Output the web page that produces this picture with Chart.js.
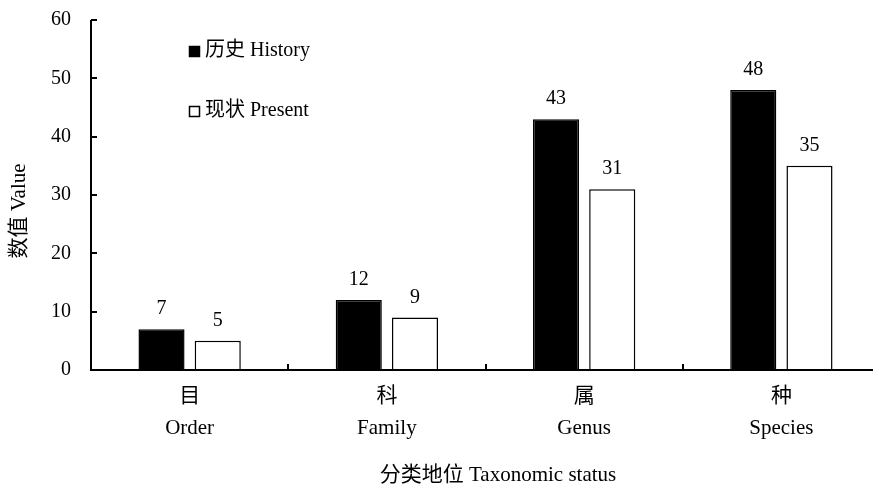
<!DOCTYPE html>
<html><head><meta charset="utf-8">
<script src="https://cdn.jsdelivr.net/npm/chart.js@4.4.0/dist/chart.umd.min.js"></script>
<style>html,body{margin:0;padding:0;overflow:hidden;background:#fff;width:873px;height:488px}#w{width:880px;height:488px}</style>
</head><body><div id="w"><canvas id="c" width="880" height="488"></canvas></div>
<script>
const categories = [['目','Order'],['科','Family'],['属','Genus'],['种','Species']];
const historyValues = [7, 12, 43, 48];
const presentValues = [5, 9, 31, 35];
const seriesNames = ['历史 History', '现状 Present'];
const yTicks = [0, 10, 20, 30, 40, 50, 60];
const xTitle = '分类地位 Taxonomic status';
const yTitle = '数值 Value';

const FONT = '"Liberation Serif", "Times New Roman", "Noto Sans CJK SC", serif';

const decor = {
  id: 'decor',
  afterDatasetsDraw(chart) {
    const ctx = chart.ctx;
    const xs = chart.scales.x, ys = chart.scales.y, a = chart.chartArea;
    ctx.save();
    ctx.strokeStyle = '#000'; ctx.lineWidth = 2;
    ctx.beginPath();
    ctx.moveTo(a.left, a.top); ctx.lineTo(a.left, a.bottom); ctx.lineTo(a.right, a.bottom);
    ctx.stroke();
    yTicks.forEach(v => {
      const y = Math.round(ys.getPixelForValue(v));
      ctx.beginPath(); ctx.moveTo(a.left, y); ctx.lineTo(a.left + 6, y); ctx.stroke();
    });
    for (let i = 1; i < categories.length; i++) {
      const x = Math.round((xs.getPixelForValue(i - 1) + xs.getPixelForValue(i)) / 2);
      ctx.beginPath(); ctx.moveTo(x, a.bottom); ctx.lineTo(x, a.bottom - 6); ctx.stroke();
    }
    ctx.fillStyle = '#000';
    ctx.font = '20px ' + FONT;
    ctx.textAlign = 'center'; ctx.textBaseline = 'bottom';
    chart.data.datasets.forEach((ds, di) => {
      chart.getDatasetMeta(di).data.forEach((bar, i) => {
        ctx.fillText(String(ds.data[i]), bar.x, bar.y - 10);
      });
    });
    ctx.font = '20px ' + FONT;
    ctx.textAlign = 'left'; ctx.textBaseline = 'middle';
    const lx = 189, ly = [51, 111];
    chart.data.datasets.forEach((ds, di) => {
      ctx.fillStyle = ds.backgroundColor;
      ctx.fillRect(lx, ly[di] - 5, 11, 11);
      ctx.lineWidth = 1.5; ctx.strokeStyle = '#000';
      ctx.strokeRect(lx + 0.5, ly[di] - 4.5, 10, 10);
      ctx.fillStyle = '#000';
      ctx.fillText(ds.label, lx + 16, ly[di]);
    });
    ctx.font = '21px ' + FONT;
    ctx.textAlign = 'center'; ctx.textBaseline = 'middle';
    ctx.fillText(xTitle, 498, 475);
    ctx.save();
    ctx.translate(19, 211); ctx.rotate(-Math.PI / 2);
    ctx.fillText(yTitle, 0, 0);
    ctx.restore();
    ctx.restore();
  }
};

new Chart(document.getElementById('c'), {
  type: 'bar',
  data: {
    labels: categories,
    datasets: [
      { label: seriesNames[0], data: historyValues, backgroundColor: '#000', borderColor: '#000', borderWidth: 1.5 },
      { label: seriesNames[1], data: presentValues, backgroundColor: '#fff', borderColor: '#000', borderWidth: 1.5 }
    ]
  },
  options: {
    responsive: false, animation: false,
    layout: { padding: { top: 20, right: 0, left: 0, bottom: 0 } },
    categoryPercentage: 0.57, barPercentage: 0.82,
    plugins: { legend: { display: false }, tooltip: { enabled: false } },
    scales: {
      x: {
        grid: { display: false, drawTicks: false },
        border: { display: false },
        ticks: { color: '#000', font: { family: FONT, size: 21, lineHeight: 1.5 }, padding: 11, maxRotation: 0, autoSkip: false },
        afterFit(s) { s.height = 118; s.paddingLeft = 0; s.paddingRight = 0; }
      },
      y: {
        min: 0, max: 60,
        grid: { display: false, drawTicks: false },
        border: { display: false },
        ticks: { stepSize: 10, color: '#000', font: { family: FONT, size: 20 }, padding: 20 },
        afterFit(s) { s.width = 91; s.paddingTop = 0; s.paddingBottom = 0; }
      }
    }
  },
  plugins: [decor]
});
</script>
</body></html>
